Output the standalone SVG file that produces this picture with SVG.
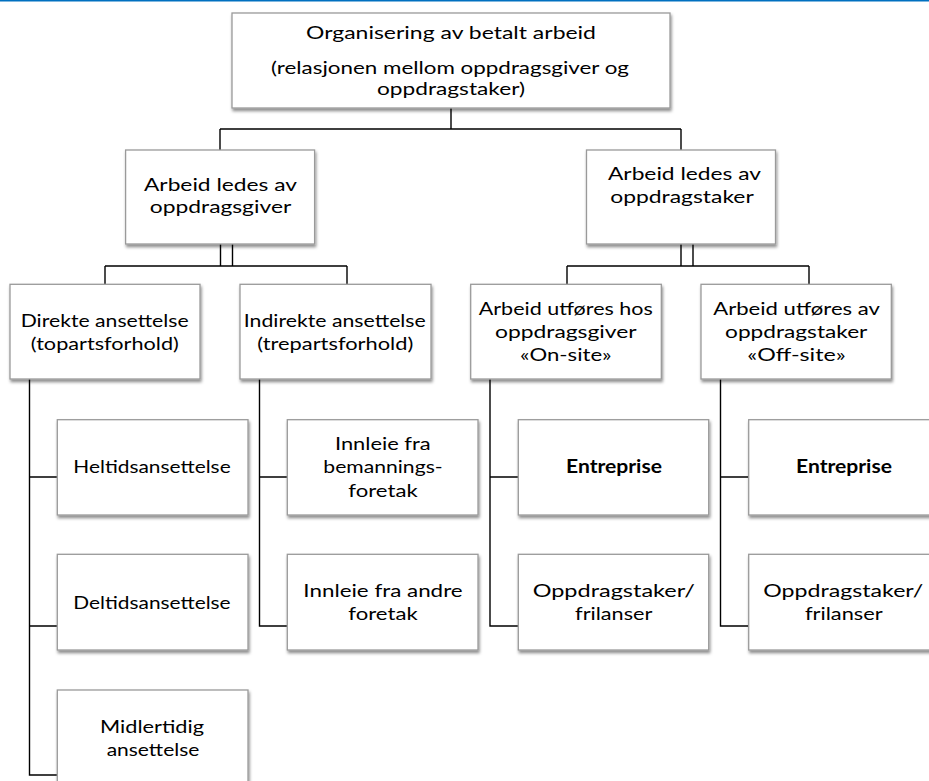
<svg xmlns="http://www.w3.org/2000/svg" width="929" height="781" viewBox="0 0 929 781">
<defs>
<filter id="sh" x="-10%" y="-10%" width="130%" height="140%">
<feDropShadow dx="1" dy="2.5" stdDeviation="1.5" flood-color="#000" flood-opacity="0.45"/>
</filter>
<style>
.box{fill:#fff;stroke:#9a9a9a;stroke-width:1.3;filter:url(#sh)}
.t{font-family:Lato,"Noto Sans","DejaVu Sans",sans-serif;font-size:18px;fill:#000;text-anchor:middle}
.b{font-weight:bold}
.c{fill:none;stroke:#000;stroke-width:1.4}
</style>
</defs>
<rect x="0" y="0" width="929" height="781" fill="#fff"/>
<line x1="0" y1="0.75" x2="929" y2="0.75" stroke="#0070C0" stroke-width="1.5"/>

<g id="connectors">
<path class="c" d="M451,108 V129 M220,129 H681 M220,129 V150 M681,129 V150"/>
<path class="c" d="M220.5,244 V266 M232.5,244 V266 M105,266 H347 M105,266 V284 M347,266 V284"/>
<path class="c" d="M681,244 V266 M693,244 V266 M567,266 H809 M567,266 V284 M809,266 V284"/>
<path class="c" d="M29.5,379 V775 H57 M29.5,477 H57 M29.5,626 H57"/>
<path class="c" d="M259.5,379 V626 H287 M259.5,477 H287"/>
<path class="c" d="M490,379 V626 H518 M490,477 H518"/>
<path class="c" d="M720.5,379 V626 H749 M720.5,477 H749"/>
</g>

<g id="root">
<rect class="box" x="232" y="13" width="438" height="95"/>
<text class="t" x="451" y="38.5" textLength="290" lengthAdjust="spacingAndGlyphs">Organisering av betalt arbeid</text>
<text class="t" x="450" y="74" textLength="358" lengthAdjust="spacingAndGlyphs">(relasjonen mellom oppdragsgiver og</text>
<text class="t" x="451" y="94.5" textLength="148" lengthAdjust="spacingAndGlyphs">oppdragstaker)</text>
</g>

<g id="ledes-giver">
<rect class="box" x="125.6" y="150" width="189" height="94"/>
<text class="t" x="220.5" y="190.7" textLength="153" lengthAdjust="spacingAndGlyphs">Arbeid ledes av</text>
<text class="t" x="220.5" y="213.3" textLength="141.5" lengthAdjust="spacingAndGlyphs">oppdragsgiver</text>
</g>

<g id="ledes-taker">
<rect class="box" x="586.5" y="150" width="189" height="94"/>
<text class="t" x="684.5" y="180" textLength="153" lengthAdjust="spacingAndGlyphs">Arbeid ledes av</text>
<text class="t" x="682" y="202.5" textLength="143.5" lengthAdjust="spacingAndGlyphs">oppdragstaker</text>
</g>

<g id="direkte">
<rect class="box" x="10" y="284.3" width="190" height="94.7"/>
<text class="t" x="104.7" y="327.3" textLength="168" lengthAdjust="spacingAndGlyphs">Direkte ansettelse</text>
<text class="t" x="104.8" y="350.3" textLength="148" lengthAdjust="spacingAndGlyphs">(topartsforhold)</text>
</g>

<g id="indirekte">
<rect class="box" x="240" y="284.3" width="191" height="94.7"/>
<text class="t" x="334.8" y="327.3" textLength="182" lengthAdjust="spacingAndGlyphs">Indirekte ansettelse</text>
<text class="t" x="335.3" y="350.3" textLength="156" lengthAdjust="spacingAndGlyphs">(trepartsforhold)</text>
</g>

<g id="on-site">
<rect class="box" x="470.7" y="284.3" width="190.6" height="94.7"/>
<text class="t" x="565.8" y="315" textLength="174" lengthAdjust="spacingAndGlyphs">Arbeid utføres hos</text>
<text class="t" x="565.8" y="338.3" textLength="141.7" lengthAdjust="spacingAndGlyphs">oppdragsgiver</text>
<text class="t" x="565.8" y="361" textLength="91.7" lengthAdjust="spacingAndGlyphs">«On-site»</text>
</g>

<g id="off-site">
<rect class="box" x="701" y="284.3" width="190.3" height="94.7"/>
<text class="t" x="796.6" y="315" textLength="166.7" lengthAdjust="spacingAndGlyphs">Arbeid utføres av</text>
<text class="t" x="796.2" y="338.3" textLength="142.3" lengthAdjust="spacingAndGlyphs">oppdragstaker</text>
<text class="t" x="796.5" y="361" textLength="98.4" lengthAdjust="spacingAndGlyphs">«Off-site»</text>
</g>

<g id="heltid">
<rect class="box" x="57.3" y="419.7" width="190.7" height="95.3"/>
<text class="t" x="152" y="473.3" textLength="157.3" lengthAdjust="spacingAndGlyphs">Heltidsansettelse</text>
</g>

<g id="deltid">
<rect class="box" x="57.3" y="554.3" width="190.7" height="95.7"/>
<text class="t" x="152" y="609" textLength="157.3" lengthAdjust="spacingAndGlyphs">Deltidsansettelse</text>
</g>

<g id="midlertidig">
<rect class="box" x="57.3" y="690" width="190.7" height="95.7"/>
<text class="t" x="152" y="733.3" textLength="104" lengthAdjust="spacingAndGlyphs">Midlertidig</text>
<text class="t" x="153" y="755.7" textLength="92.7" lengthAdjust="spacingAndGlyphs">ansettelse</text>
</g>

<g id="innleie-bemanning">
<rect class="box" x="287.3" y="419.7" width="190.7" height="95.3"/>
<text class="t" x="382.8" y="450" textLength="95.7" lengthAdjust="spacingAndGlyphs">Innleie fra</text>
<text class="t" x="383" y="473.3" textLength="119.3" lengthAdjust="spacingAndGlyphs">bemannings-</text>
<text class="t" x="383" y="496.7" textLength="69.3" lengthAdjust="spacingAndGlyphs">foretak</text>
</g>

<g id="innleie-andre">
<rect class="box" x="287.3" y="554.3" width="190.7" height="95.7"/>
<text class="t" x="383" y="596.7" textLength="159.3" lengthAdjust="spacingAndGlyphs">Innleie fra andre</text>
<text class="t" x="383" y="620" textLength="69.3" lengthAdjust="spacingAndGlyphs">foretak</text>
</g>

<g id="entreprise-on">
<rect class="box" x="518.3" y="419.7" width="190.4" height="95.3"/>
<text class="t b" x="614" y="473.3" textLength="96" lengthAdjust="spacingAndGlyphs">Entreprise</text>
</g>

<g id="frilanser-on">
<rect class="box" x="518.3" y="554.3" width="190.4" height="95.7"/>
<text class="t" x="613.8" y="596.7" textLength="162.3" lengthAdjust="spacingAndGlyphs">Oppdragstaker/</text>
<text class="t" x="613.7" y="620" textLength="77.3" lengthAdjust="spacingAndGlyphs">frilanser</text>
</g>

<g id="entreprise-off">
<rect class="box" x="748.7" y="419.7" width="190.4" height="95.3"/>
<text class="t b" x="844" y="473.3" textLength="96" lengthAdjust="spacingAndGlyphs">Entreprise</text>
</g>

<g id="frilanser-off">
<rect class="box" x="748.7" y="554.3" width="190.4" height="95.7"/>
<text class="t" x="843.3" y="596.7" textLength="160" lengthAdjust="spacingAndGlyphs">Oppdragstaker/</text>
<text class="t" x="843.8" y="620" textLength="77.7" lengthAdjust="spacingAndGlyphs">frilanser</text>
</g>
</svg>
